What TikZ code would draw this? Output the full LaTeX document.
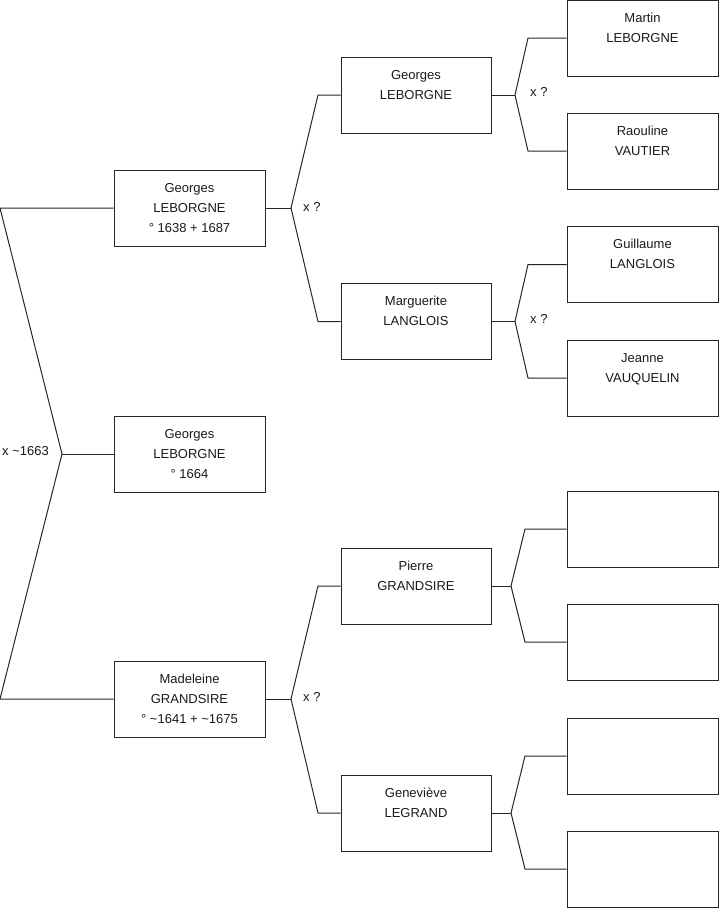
\documentclass[tikz,border=0pt]{standalone}
\usepackage{fontspec}
\setmainfont{Liberation Sans}
\begin{document}
\begin{tikzpicture}[x=1pt,y=-1pt,
  pbox/.style={draw=black!85,line width=1pt,minimum width=151pt,minimum height=76pt,inner sep=0pt,
    align=center,font=\fontsize{13}{20}\selectfont,text=black!90},
  lnk/.style={draw=black!85,line width=1pt,line join=miter},
  lbl/.style={anchor=west,inner sep=0pt,font=\fontsize{13}{16}\selectfont,text=black!90}]
\useasboundingbox (0,0) rectangle (719,908);
\newcommand{\ptxt}[1]{\raisebox{2pt}{\parbox{151pt}{\centering #1}}}
% generation 1
\node[pbox] (g1a) at (189.5,208) {\strut Georges\\\strut LEBORGNE\\\strut ° 1638 + 1687};
\node[pbox] (g1b) at (189.5,454) {\strut Georges\\\strut LEBORGNE\\\strut ° 1664};
\node[pbox] (g1c) at (189.5,699) {\strut Madeleine\\\strut GRANDSIRE\\\strut ° \textasciitilde1641 + \textasciitilde1675};
% generation 2
\node[pbox,minimum width=150pt] (g2a) at (416,95) {\strut Georges\\\strut LEBORGNE\\\strut};
\node[pbox,minimum width=150pt] (g2b) at (416,321.5) {\strut Marguerite\\\strut LANGLOIS\\\strut};
\node[pbox,minimum width=150pt] (g2c) at (416,586) {\strut Pierre\\\strut GRANDSIRE\\\strut};
\node[pbox,minimum width=150pt] (g2d) at (416,813) {\strut Geneviève\\\strut LEGRAND\\\strut};
% generation 3
\node[pbox] (g3a) at (642.5,38) {\strut Martin\\\strut LEBORGNE\\\strut};
\node[pbox] (g3b) at (642.5,151) {\strut Raouline\\\strut VAUTIER\\\strut};
\node[pbox] (g3c) at (642.5,264.5) {\strut Guillaume\\\strut LANGLOIS\\\strut};
\node[pbox] (g3d) at (642.5,378) {\strut Jeanne\\\strut VAUQUELIN\\\strut};
\node[pbox] (g3e) at (642.5,529) {};
\node[pbox] (g3f) at (642.5,642) {};
\node[pbox] (g3g) at (642.5,756) {};
\node[pbox] (g3h) at (642.5,869) {};
% root connector
\coordinate (v0) at (62,454);
\coordinate (t0) at (0,208);
\coordinate (b0) at (0,699);
\draw[lnk] (g1a.west) -- (t0) -- (v0) -- (b0) -- (g1c.west);
\draw[lnk] (v0) -- (g1b.west);
\node[lbl] (l0) at (2,451) {x \textasciitilde1663};
% Georges 1638 parents
\coordinate (va) at (291,208);
\coordinate (vat) at (318,95);
\coordinate (vab) at (318,321.5);
\draw[lnk] (g1a.east) -- (va);
\draw[lnk] (g2a.west) -- (vat) -- (va) -- (vab) -- (g2b.west);
\node[lbl] (la) at (303,207) {x ?};
% Madeleine parents
\coordinate (vc) at (291,699);
\coordinate (vct) at (318,586);
\coordinate (vcb) at (318,813);
\draw[lnk] (g1c.east) -- (vc);
\draw[lnk] (g2c.west) -- (vct) -- (vc) -- (vcb) -- (g2d.west);
\node[lbl] (lc) at (303,697) {x ?};
% Georges (gen 2) parents
\coordinate (wa) at (515,95);
\coordinate (wat) at (528,38);
\coordinate (wab) at (528,151);
\draw[lnk] (g2a.east) -- (wa);
\draw[lnk] (g3a.west) -- (wat) -- (wa) -- (wab) -- (g3b.west);
\node[lbl] (lwa) at (530,92) {x ?};
% Marguerite parents
\coordinate (wb) at (515,321.5);
\coordinate (wbt) at (528,264.5);
\coordinate (wbb) at (528,378);
\draw[lnk] (g2b.east) -- (wb);
\draw[lnk] (g3c.west) -- (wbt) -- (wb) -- (wbb) -- (g3d.west);
\node[lbl] (lwb) at (530,319) {x ?};
% Pierre parents
\coordinate (wc) at (511,586);
\coordinate (wct) at (525,529);
\coordinate (wcb) at (525,642);
\draw[lnk] (g2c.east) -- (wc);
\draw[lnk] (g3e.west) -- (wct) -- (wc) -- (wcb) -- (g3f.west);
% Genevieve parents
\coordinate (wd) at (511,813);
\coordinate (wdt) at (525,756);
\coordinate (wdb) at (525,869);
\draw[lnk] (g2d.east) -- (wd);
\draw[lnk] (g3g.west) -- (wdt) -- (wd) -- (wdb) -- (g3h.west);
\end{tikzpicture}
\end{document}
